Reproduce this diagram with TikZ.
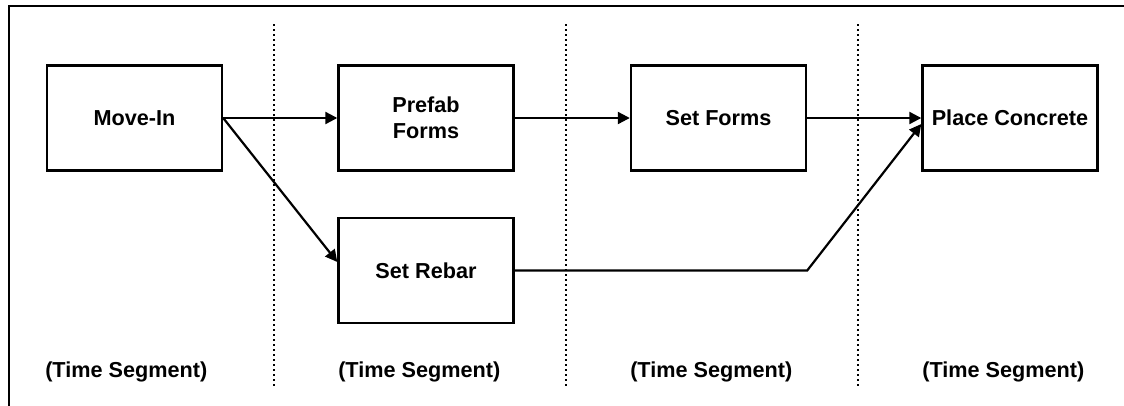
\documentclass[tikz,border=0pt]{standalone}
\usepackage{fontspec}
\setmainfont{Liberation Sans}
\usetikzlibrary{arrows.meta,calc}

\begin{document}
\begin{tikzpicture}[x=0.25mm,y=-0.25mm,
    task/.style={draw, line width=0.6mm, minimum width=43.75mm, minimum height=26.25mm,
      align=center, font=\fontsize{15.4}{18.5}\selectfont\bfseries},
    flow/.style={line width=0.55mm, -{Triangle[length=3mm,width=3mm]}},
    seglabel/.style={anchor=west, inner sep=0pt, font=\fontsize{15.4}{18.5}\selectfont\bfseries},
    divider/.style={line width=0.55mm, dash pattern=on 0.5mm off 0.75mm}]
  \useasboundingbox (0,0) rectangle (1124,406);

  % Outer frame (right and bottom run off the page)
  \draw[line width=0.7mm] (9,406) -- (9,6) -- (1124,6);

  % Dotted dividers between time segments
  \foreach \x in {274,566,858} {
    \draw[divider] (\x,24) -- (\x,388);}

  % Activities
  \node[task] (movein)   at (134.5,118) {Move-In};
  \node[task] (prefab)   at (426,118)   {Prefab\\Forms};
  \node[task] (setforms) at (718.5,118) {Set Forms};
  \node[task] (concrete) at (1010,118)  {Place Concrete};
  \node[task] (rebar)    at (426,270.5) {Set Rebar};

  % Segment labels
  \foreach \x in {45,338,630,922} {
    \node[seglabel] (seg\x) at (\x,372) {(Time Segment)};}

  % Precedence links
  \draw[flow] (movein.east) -- (prefab.west);
  \draw[flow] (movein.east) -- ($(rebar.west)+(0,-8.5)$);
  \draw[flow] (prefab.east) -- (setforms.west);
  \draw[flow] (setforms.east) -- (concrete.west);
  \coordinate (bend) at (rebar.east -| setforms.east);
  \draw[flow] (rebar.east) -- (bend) -- ($(concrete.west)+(0,6)$);
\end{tikzpicture}
\end{document}
